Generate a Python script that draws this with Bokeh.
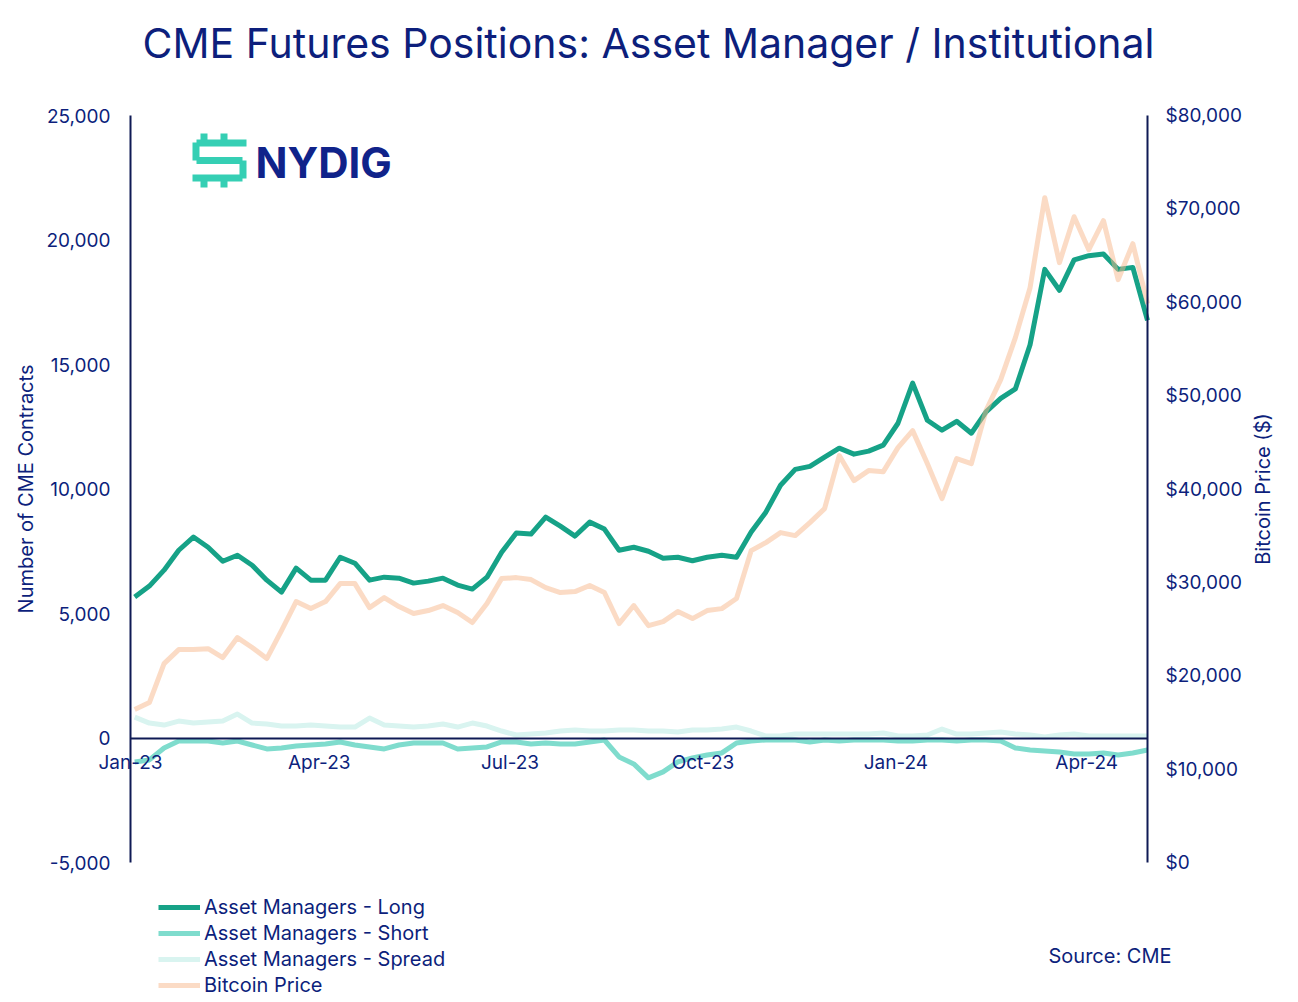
import math
from datetime import datetime, timedelta
from bokeh.plotting import figure
from bokeh.models import (Range1d, LinearAxis, DatetimeAxis, FixedTicker, SingleIntervalTicker,
                          NumeralTickFormatter, DatetimeTickFormatter, Legend, LegendItem,
                          Label, BoxAnnotation)
from bokeh.embed import file_html
from bokeh.resources import INLINE

# ---------------- data ----------------
start = datetime(2023, 1, 3)
dates = [start + timedelta(weeks=i) for i in range(70)]

long_pos = [5660, 6100, 6740, 7540, 8070, 7660, 7100, 7340, 6940, 6340,
            5860, 6820, 6340, 6340, 7260, 7020, 6340, 6460, 6420, 6220,
            6300, 6420, 6140, 5980, 6460, 7460, 8230, 8190, 8870, 8510,
            8110, 8670, 8390, 7540, 7660, 7500, 7220, 7260, 7120, 7260,
            7340, 7260, 8270, 9070, 10150, 10790, 10910, 11280, 11640, 11400,
            11520, 11760, 12640, 14250, 12760, 12360, 12720, 12240, 13100, 13640,
            14020, 15790, 18820, 17980, 19200, 19370, 19440, 18820, 18900, 16770]

short_pos = [-960, -880, -400, -120, -120, -120, -200, -120, -280, -440,
             -400, -320, -280, -240, -160, -280, -360, -440, -280, -200,
             -200, -200, -440, -400, -360, -160, -160, -240, -200, -240,
             -240, -160, -80, -760, -1040, -1600, -1360, -960, -800, -680,
             -600, -200, -120, -80, -80, -80, -160, -80, -120, -80,
             -80, -80, -120, -120, -80, -80, -120, -80, -80, -120,
             -400, -480, -520, -560, -640, -640, -600, -680, -600, -480]

spread_pos = [840, 600, 520, 680, 600, 640, 680, 960, 600, 560,
              480, 480, 520, 480, 440, 440, 800, 520, 480, 440,
              480, 560, 440, 600, 480, 280, 120, 160, 200, 280,
              320, 280, 280, 320, 320, 280, 280, 240, 320, 320,
              360, 440, 280, 80, 80, 160, 160, 160, 160, 160,
              160, 200, 80, 80, 120, 360, 160, 160, 200, 240,
              160, 120, 40, 120, 160, 80, 80, 80, 80, 80]

btc_price = [16380, 17130, 21300, 22800, 22800, 22900, 21950, 24090, 23020, 21840,
             24840, 27940, 27200, 27940, 29870, 29870, 27300, 28370, 27410, 26660,
             26980, 27520, 26770, 25700, 27730, 30410, 30510, 30300, 29440, 28910,
             29010, 29660, 28910, 25590, 27520, 25370, 25800, 26870, 26120, 26980,
             27190, 28270, 33400, 34260, 35330, 35010, 36400, 37900, 43580, 40900,
             41970, 41860, 44430, 46250, 42720, 38970, 43250, 42720, 48390, 51710,
             56210, 61560, 71200, 64240, 69160, 65630, 68740, 62420, 66270, 59850]

tick_dates = [datetime(2023, 1, 1), datetime(2023, 4, 1), datetime(2023, 7, 1),
              datetime(2023, 10, 1), datetime(2024, 1, 1), datetime(2024, 4, 1)]

series_labels = ["Asset Managers - Long", "Asset Managers - Short",
                 "Asset Managers - Spread", "Bitcoin Price"]

x_first, x_last = datetime(2023, 1, 1), datetime(2024, 4, 30)
left_min, left_max = -5000, 25000
right_min, right_max = 0, 80000

# ---------------- layout / style ----------------
W, H = 1290, 996
PL, PR, PT, PB = 130, 1147, 115, 862      # plotting box in canvas pixels

NAVY = "#0D1F7C"
AXIS = "#0F1A55"
FONT = "Inter"
C_LONG = "#16A287"
C_SHORT = "#7FDCCD"
C_SPREAD = "#D9F4F0"
C_BTC = "#F7B88C"
LOGO = "#35CFB4"

epoch = datetime(1970, 1, 1)
ms = lambda d: (d - epoch).total_seconds() * 1000
tick_ms = [ms(d) for d in tick_dates]

# the frame covers the whole canvas; ranges are stretched so the plotting box sits at PL..PR, PT..PB
x0, x1 = ms(x_first), ms(x_last)
xpp = (x1 - x0) / (PR - PL)
ypp = (left_max - left_min) / (PB - PT)
rpp = (right_max - right_min) / (PB - PT)

p = figure(width=W, height=H, output_backend="svg", toolbar_location=None,
           x_axis_type="datetime", x_axis_location=None, y_axis_location=None,
           x_range=Range1d(x0 - PL * xpp, x1 + (W - PR) * xpp),
           y_range=Range1d(left_min - (H - PB) * ypp, left_max + PT * ypp),
           min_border=0)
p.extra_y_ranges = {"btc": Range1d(right_min - (H - PB) * rpp, right_max + PT * rpp)}
p.title.visible = False
p.outline_line_color = None
p.background_fill_color = "white"
p.border_fill_color = "white"
p.grid.visible = False


def style_axis(ax):
    ax.axis_line_color = AXIS
    ax.axis_line_width = 2
    ax.major_tick_line_color = None
    ax.minor_tick_line_color = None
    ax.major_label_text_font = FONT
    ax.major_label_text_font_size = "19px"
    ax.major_label_text_color = NAVY
    ax.axis_label_text_font = FONT
    ax.axis_label_text_font_size = "20px"
    ax.axis_label_text_font_style = "normal"
    ax.axis_label_text_color = NAVY


yl = LinearAxis(fixed_location=x0, bounds=(left_min, left_max),
                ticker=SingleIntervalTicker(interval=5000),
                formatter=NumeralTickFormatter(format="0,0"),
                axis_label="Number of CME Contracts")
style_axis(yl)
yl.major_label_standoff = 14
yl.axis_label_standoff = 5
p.add_layout(yl, "left")

yr = LinearAxis(y_range_name="btc", fixed_location=x1, bounds=(right_min, right_max),
                ticker=SingleIntervalTicker(interval=10000),
                formatter=NumeralTickFormatter(format="$0,0"))
style_axis(yr)
yr.major_label_standoff = 12
p.add_layout(yr, "right")

# right axis title, reading bottom-to-top like the left one
p.add_layout(Label(x=1262, y=H - (PT + PB) / 2, x_units="screen", y_units="screen",
                   text="Bitcoin Price ($)", angle=math.pi / 2,
                   text_font=FONT, text_font_size="20px", text_color=NAVY,
                   text_baseline="middle", text_align="center"))

xa = DatetimeAxis(fixed_location=0, bounds=(x0, x1), ticker=FixedTicker(ticks=tick_ms),
                  formatter=DatetimeTickFormatter(months="%b-%y", days="%b-%y", years="%b-%y"))
style_axis(xa)
xa.major_label_standoff = 7
p.add_layout(xa, "below")

# series
r_spread = p.line(dates, spread_pos, color=C_SPREAD, line_width=5, line_join="round")
r_short = p.line(dates, short_pos, color=C_SHORT, line_width=5, line_join="round")
r_long = p.line(dates, long_pos, color=C_LONG, line_width=5, line_join="round")
r_btc = p.line(dates, btc_price, y_range_name="btc", color=C_BTC, line_alpha=0.5,
               line_width=5, line_join="round")

legend = Legend(items=[LegendItem(label=series_labels[0], renderers=[r_long]),
                       LegendItem(label=series_labels[1], renderers=[r_short]),
                       LegendItem(label=series_labels[2], renderers=[r_spread]),
                       LegendItem(label=series_labels[3], renderers=[r_btc])],
                location=(158, H - 997), orientation="vertical",
                padding=0, margin=0, spacing=2,
                glyph_width=42, glyph_height=22, label_height=22, label_standoff=4,
                border_line_color=None, background_fill_alpha=0,
                label_text_font=FONT, label_text_font_size="20px", label_text_color=NAVY)
p.add_layout(legend, "center")

# title
p.add_layout(Label(x=648, y=H - 42, x_units="screen", y_units="screen",
                   text="CME Futures Positions: Asset Manager / Institutional",
                   text_font=FONT, text_font_size="41px", text_color=NAVY,
                   text_baseline="middle", text_align="center"))

# source note
p.add_layout(Label(x=1048, y=H - 955, x_units="screen", y_units="screen", text="Source: CME",
                   text_font=FONT, text_font_size="20px", text_color=NAVY,
                   text_baseline="middle", text_align="left"))


# logo (canvas pixel boxes)
def box(a, b, c, d):
    p.add_layout(BoxAnnotation(left=a, right=b, top=H - c, bottom=H - d,
                               left_units="screen", right_units="screen",
                               top_units="screen", bottom_units="screen",
                               fill_color=LOGO, fill_alpha=1, line_color=None))


box(200, 207, 133, 140)
box(220, 227, 133, 140)
box(196, 246, 139, 146)
box(192, 199, 142, 160)
box(196, 242, 156.5, 163.5)
box(239, 246, 160, 178)
box(192, 242, 174, 181)
box(200, 207, 180, 187)
box(220, 227, 180, 187)

p.add_layout(Label(x=255, y=H - 162, x_units="screen", y_units="screen", text="NYDIG",
                   text_font=FONT, text_font_style="bold", text_font_size="42px",
                   text_color="#10238A", text_baseline="middle", text_align="left"))

open("out.html", "w").write(file_html(p, INLINE))
